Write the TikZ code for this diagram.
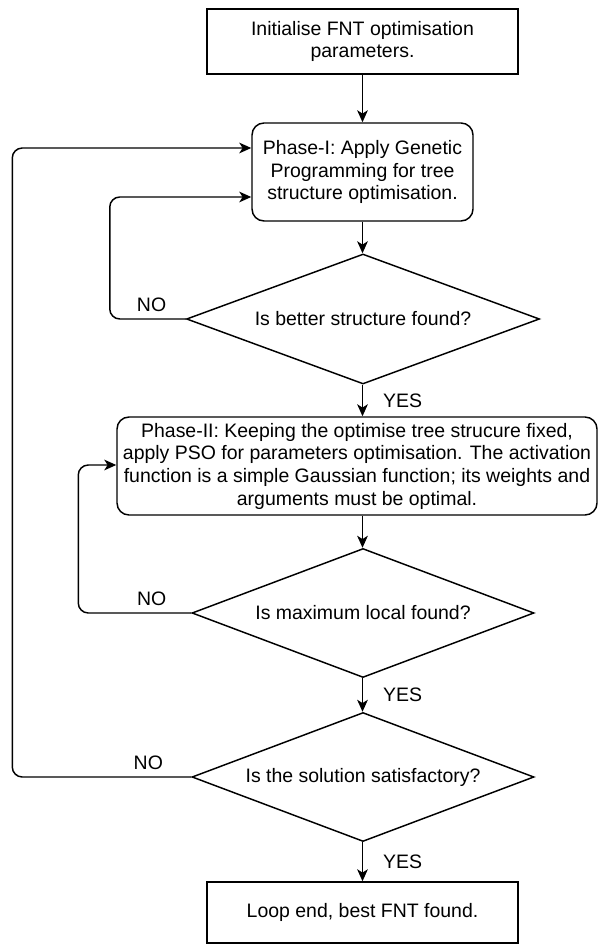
\documentclass[tikz,border=0pt]{standalone}
\usepackage{fontspec}
\setmainfont{Liberation Sans}
\usetikzlibrary{shapes.geometric,arrows.meta}

\begin{document}
\begin{tikzpicture}[
  x=0.75pt, y=-0.75pt,
  every node/.style={font=\fontsize{14.6pt}{17pt}\selectfont},
  box/.style={draw, line width=1.1pt, align=center, inner sep=0pt},
  phase/.style={box, rounded corners=9pt},
  decision/.style={draw, line width=1.1pt, diamond, aspect=2.7, inner sep=0pt, align=center},
  arrow/.style={-{Stealth[length=9pt, width=8pt, inset=2.5pt]}, line width=1.1pt},
  loop/.style={arrow, rounded corners=7.5pt},
  lbl/.style={inner sep=2pt}
]
\useasboundingbox (0,0) rectangle (598,944);

% Boxes and decisions (top to bottom)
\node[box, minimum width=233.25pt, minimum height=48.75pt] (init) at (362.5, 41.5)
  {Initialise FNT optimisation\\parameters.};
\node[phase, minimum width=165.75pt, minimum height=73.5pt] (ph1) at (362.5, 172)
  {Phase-I: Apply Genetic\\Programming for tree\\structure optimisation.};
\node[decision, minimum width=264.75pt, minimum height=97.5pt] (d1) at (363, 319)
  {Is better structure found?};
\node[phase, minimum width=360pt, minimum height=73.5pt] (ph2) at (357, 466)
  {Phase-II: Keeping the optimise tree strucure fixed,\\
   apply PSO for parameters optimisation. The activation\\
   function is a simple Gaussian function; its weights and\\
   arguments must be optimal.};
\node[decision, minimum width=256.5pt, minimum height=96.75pt] (d2) at (363, 613)
  {Is maximum local found?};
\node[decision, minimum width=256.5pt, minimum height=96.75pt] (d3) at (363, 777)
  {Is the solution satisfactory?};
\node[box, minimum width=233.25pt, minimum height=45.75pt] (done) at (362.5, 912.5)
  {Loop end, best FNT found.};

% Main flow
\draw[arrow] (init.south) -- (init.south |- ph1.north);
\draw[arrow] (ph1.south -| init.south) -- (d1.north -| init.south);
\draw[arrow] (d1.south -| init.south) -- node[lbl, right, xshift=13pt] {YES} (ph2.north -| init.south);
\draw[arrow] (ph2.south -| init.south) -- (d2.north -| init.south);
\draw[arrow] (d2.south -| init.south) -- node[lbl, right, xshift=13pt] {YES} (d3.north -| init.south);
\draw[arrow] (d3.south -| init.south) -- node[lbl, right, xshift=13pt] {YES} (done.north);

% NO loops
\draw[loop] (d1.west) -- node[lbl, above, pos=0.45, yshift=3pt] {NO} ++(-76,0)
  |- ([yshift=-18.75pt]ph1.west);
\draw[loop] (d2.west) -- node[lbl, above, pos=0.35, yshift=3pt] {NO} ++(-113,0)
  |- ([yshift=0.75pt]ph2.west);
\draw[loop] (d3.west) -- node[lbl, above, pos=0.24, yshift=3pt] {NO} ++(-179,0)
  |- ([yshift=18pt]ph1.west);

\end{tikzpicture}
\end{document}
